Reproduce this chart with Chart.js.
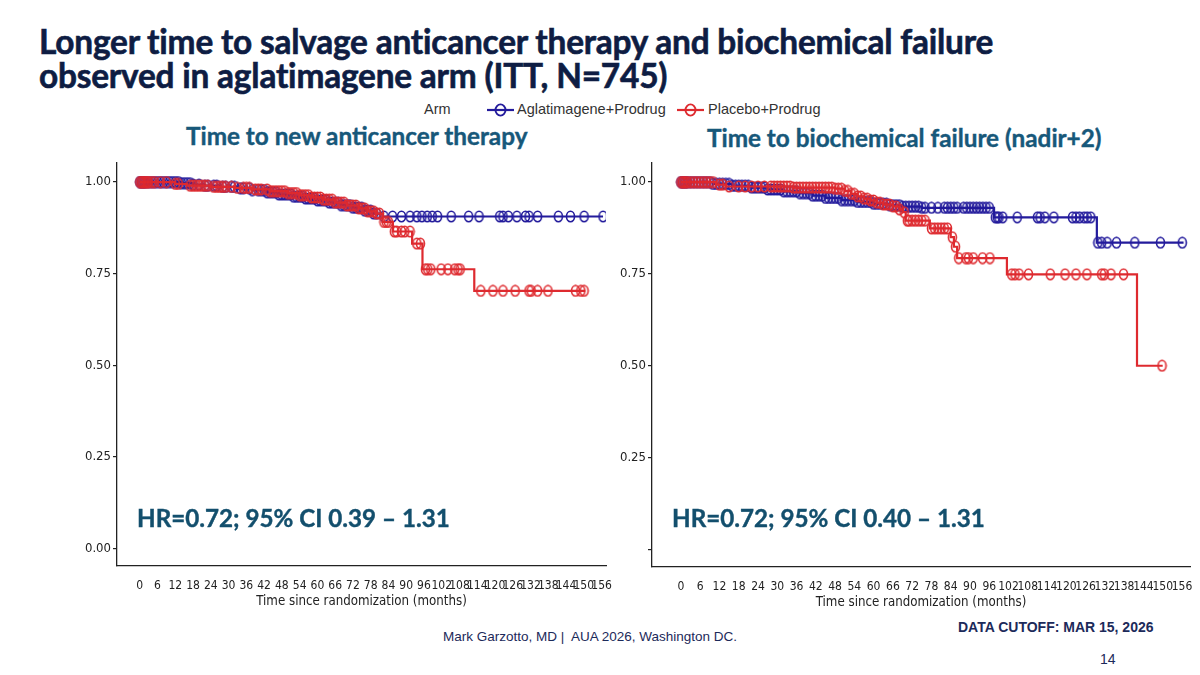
<!DOCTYPE html>
<html lang="en">
<head>
  <meta charset="UTF-8" />
  <title>Aglatimagene KM curves</title>
  <script src="https://cdn.jsdelivr.net/npm/chart.js"></script>
  <style>
    body { margin: 0; background: #fff; }
    #page { position: relative; width: 1200px; height: 675px; overflow: hidden; background: #fff; }
    .abs { position: absolute; white-space: nowrap; }
    #title { left: 39px; top: 24px; font: 700 33.4px/34px Lato, "Open Sans", sans-serif; letter-spacing: -0.2px; color: #0e1d43; -webkit-text-stroke: 0.6px #0e1d43; }
    .sub { font: 700 24.3px Lato, "Open Sans", sans-serif; color: #17587a; -webkit-text-stroke: 0.4px #17587a; }
    .hr { font: 700 24.2px Lato, "Open Sans", sans-serif; color: #134f6d; -webkit-text-stroke: 0.4px #134f6d; }
    .leg { font: 14.5px "Liberation Sans", Arial, sans-serif; color: #333; top: 101px; }
    .foot { font: 13.5px "Liberation Sans", Arial, sans-serif; color: #1c2a5a; }
    canvas { position: absolute; }
  </style>
</head>
<body>
<div id="page">
  <div id="title" class="abs">Longer time to salvage anticancer therapy and biochemical failure<br>observed in aglatimagene arm (ITT, N=745)</div>

  <div class="abs leg" style="left:424px;">Arm</div>
  <svg class="abs" style="left:487px; top:103px;" width="27" height="14"><line x1="0" y1="7" x2="27" y2="7" stroke="#231b9c" stroke-width="2.2"/><ellipse cx="13.5" cy="7" rx="5" ry="5.6" fill="none" stroke="#231b9c" stroke-width="1.9"/></svg>
  <div class="abs leg" style="left:517px;">Aglatimagene+Prodrug</div>
  <svg class="abs" style="left:677px; top:103px;" width="27" height="14"><line x1="0" y1="7" x2="27" y2="7" stroke="#de2a2f" stroke-width="2.2"/><ellipse cx="13.5" cy="7" rx="5" ry="5.6" fill="none" stroke="#de2a2f" stroke-width="1.9"/></svg>
  <div class="abs leg" style="left:708px;">Placebo+Prodrug</div>

  <div class="abs sub" style="left:186px; top:121px;">Time to new anticancer therapy</div>
  <div class="abs sub" style="left:707px; top:123px;">Time to biochemical failure (nadir+2)</div>

  <canvas id="leftChart" width="560" height="461" style="left:60px; top:150px;"></canvas>
  <canvas id="rightChart" width="592" height="462" style="left:608px; top:150px;"></canvas>

  <div class="abs hr" style="left:137px; top:503px;">HR=0.72; 95% CI 0.39 – 1.31</div>
  <div class="abs hr" style="left:672px; top:503px;">HR=0.72; 95% CI 0.40 – 1.31</div>

  <div class="abs foot" style="left:443px; top:629px;">Mark Garzotto, MD |&nbsp; AUA 2026, Washington DC.</div>
  <div class="abs foot" style="left:958px; top:619px; font-weight:700; font-size:14px;">DATA CUTOFF: MAR 15, 2026</div>
  <div class="abs foot" style="left:1100px; top:651px; font-size:14px;">14</div>
</div>
<script>
  // axis ticks
  const xTicks = [0, 6, 12, 18, 24, 30, 36, 42, 48, 54, 60, 66, 72, 78, 84, 90, 96, 102, 108, 114, 120, 126, 132, 138, 144, 150, 156];
  const yTicks = [0, 0.25, 0.5, 0.75, 1];

  // time to new anticancer therapy (left)
  const therapyAgTimes = [0, 14, 18, 22, 27, 33, 38, 43, 47, 52, 56, 60, 64, 68, 72, 76, 79, 82, 156.5];
  const therapyAgSurv  = [1, 0.997, 0.993, 0.990, 0.987, 0.983, 0.978, 0.972, 0.966, 0.960, 0.955, 0.950, 0.944, 0.937, 0.930, 0.922, 0.914, 0.906, 0.906];
  const therapyAgCensor = [0, 0.5, 1, 1.5, 2, 3, 4, 5, 6, 7, 8, 9, 10, 11, 12, 13, 14, 15, 16, 17, 18, 20, 22, 23, 25, 26, 28, 29, 31, 32, 34, 35, 37, 38, 40, 41, 42, 43, 44, 45, 46, 47, 48, 49, 50, 51, 52, 53, 54, 55, 56, 57, 58, 59, 60, 61, 62, 63, 64, 65, 66, 67, 68, 69, 70, 71, 72, 73, 74, 75, 76, 77, 78, 79, 80,
    82.5, 85.4, 88.4, 91.3, 93.6, 95.3, 97.1, 98.8, 100.6, 105.2, 111.1, 114.6, 121.6, 122.7, 124.5, 127.4, 130.3, 131.5, 134.4, 141.4, 145.5, 150.1, 156.5];

  const therapyPbTimes = [0, 12, 16, 24, 32, 38, 44, 50, 54, 58, 62, 66, 70, 74, 77, 80, 82, 85.5, 92, 95.5, 113, 150.5];
  const therapyPbSurv  = [1, 0.995, 0.990, 0.987, 0.984, 0.980, 0.975, 0.970, 0.964, 0.958, 0.952, 0.944, 0.936, 0.928, 0.920, 0.914, 0.891, 0.865, 0.832, 0.762, 0.703, 0.703];
  const therapyPbCensor = [0, 0.5, 1, 1.5, 2, 2.5, 3, 4, 5, 7, 9, 12, 13, 17, 18, 19, 20, 21, 22, 23, 25, 26, 27, 28, 29, 31, 33, 35, 36, 37, 39, 40, 41, 43, 44, 45, 46, 47, 48, 49, 50, 51, 52, 53, 54, 55, 56, 57, 58, 59, 60, 61, 62, 63, 64, 65, 66, 67, 68, 69, 70, 71, 72, 73, 74, 75, 76, 77, 78, 79, 80, 81,
    82.5, 83.3, 84, 86, 86.8, 88.4, 89.5, 91.3, 93.6, 94.8, 96.5, 97.3, 98.3, 101.8, 104.1, 106.4, 107.5, 108.2, 115.2, 119.3, 122.7, 126.8, 131.5, 132.2, 134.4, 137.9, 147.2, 149, 150.1];

  // time to biochemical failure (right)
  const bcfAgTimes = [0, 10, 16, 22, 27, 32, 37, 41, 45, 50, 55, 60, 65, 69, 75, 97.5, 129.5, 156.5];
  const bcfAgSurv  = [1, 0.995, 0.990, 0.985, 0.980, 0.975, 0.970, 0.963, 0.957, 0.951, 0.946, 0.941, 0.937, 0.933, 0.930, 0.904, 0.835, 0.835];
  const bcfAgCensor = [0, 0.5, 1, 1.5, 2, 3, 4, 5, 6, 7, 8, 9, 10, 11, 12, 13, 14, 15, 16, 17, 18, 19, 20, 21, 22, 23, 24, 25, 26, 27, 28, 29, 30, 31, 32, 33, 34, 35, 36, 37, 38, 39, 40, 41, 42, 43, 44, 45, 46, 47, 48, 49, 50, 51, 52, 53, 54, 55, 56, 57, 58, 59, 60, 61, 62, 63, 64, 65, 66, 67, 68, 69, 70, 71, 72, 73, 74, 75, 76, 78, 80, 82, 83, 84, 85, 86, 88, 89, 90, 91, 92, 93, 94, 95, 96,
    97.9, 98.5, 99, 100.2, 104.7, 111, 111.8, 113.3, 116.1, 121.9, 123, 124.1, 125.5, 126.5, 127.6, 129.8, 131, 132.7, 135.6, 141.3, 149.3, 156.1];

  const bcfPbTimes = [0, 11, 14, 35, 48, 51, 53, 55, 57, 59, 61, 63, 66, 68, 69, 70, 77.5, 84, 85, 86, 101.5, 142, 150];
  const bcfPbSurv  = [1, 0.993, 0.988, 0.985, 0.982, 0.976, 0.968, 0.961, 0.955, 0.950, 0.944, 0.939, 0.934, 0.926, 0.918, 0.895, 0.874, 0.850, 0.824, 0.793, 0.749, 0.500, 0.500];
  const bcfPbCensor = [0, 0.5, 1, 1.5, 2, 3, 4, 5, 6, 7, 8, 9, 10, 12, 13, 15, 18, 20, 22, 24, 26, 28, 29, 30, 31, 32, 33, 34, 35, 36, 37, 38, 39, 40, 41, 42, 43, 44, 45, 46, 47, 48, 49, 50, 51, 52, 53, 54, 55, 56, 57, 58, 59, 60, 61, 62, 63, 64, 65, 66, 67, 68, 69.5,
    70.5, 71, 72, 73, 74, 75, 76, 78, 79, 80, 81, 82, 83, 84.5, 85.5, 86.5, 88.7, 89.5, 91, 93.9, 96.2, 103, 104, 105.3, 108.2, 115, 119.6, 123, 126.4, 131, 131.8, 133.9, 137.8, 149.8];

  const BLUE = "#231b9c";
  const RED = "#de2a2f";
  const condensed = "'Liberation Sans Narrow', 'Arial Narrow', 'DejaVu Sans Condensed', sans-serif";
  const xTickFont = { family: condensed, size: 12 };
  const yTickFont = { family: condensed, size: 13 };
  const titleFont = { family: condensed, size: 13.2 };

  function censorMark(color) {
    const c = document.createElement("canvas");
    c.width = 11; c.height = 13;
    const g = c.getContext("2d");
    g.strokeStyle = color;
    g.lineWidth = 1.6;
    g.beginPath();
    g.ellipse(5.5, 6.5, 4, 5.2, 0, 0, Math.PI * 2);
    g.stroke();
    return c;
  }

  function survAt(times, surv, t) {
    let s = surv[0];
    for (let i = 0; i < times.length; i++) if (times[i] <= t) s = surv[i];
    return s;
  }

  function kmSets(times, surv, censor, color, order) {
    return [
      {
        type: "scatter",
        data: censor.map(t => ({ x: t, y: survAt(times, surv, t) })),
        pointStyle: censorMark(color), pointRadius: 5, order
      },
      {
        type: "line",
        data: times.map((t, i) => ({ x: t, y: surv[i] })),
        borderColor: color, borderWidth: 2.2, stepped: "before",
        pointRadius: 0, fill: false, order
      }
    ];
  }

  function makeChart(id, ag, pb, xMin, xMax, yWidth, padRight, showZero) {
    new Chart(document.getElementById(id), {
      data: { datasets: [...kmSets(...pb, RED, 0), ...kmSets(...ag, BLUE, 1)] },
      options: {
        responsive: false,
        animation: false,
        layout: { padding: { top: 13, right: padRight, left: 0, bottom: 0 } },
        plugins: { legend: { display: false }, tooltip: { enabled: false } },
        scales: {
          x: {
            type: "linear", min: xMin, max: xMax,
            afterBuildTicks: a => { a.ticks = xTicks.map(v => ({ value: v })); },
            afterFit: a => { a.height = 45; },
            grid: { display: false },
            border: { display: true, color: "#222", width: 1.3 },
            ticks: { autoSkip: false, maxRotation: 0, color: "#222", font: xTickFont, padding: 5 },
            title: { display: true, text: "Time since randomization (months)", color: "#222", font: titleFont, padding: { top: 0, bottom: 2 } }
          },
          y: {
            type: "linear", min: -0.048, max: 1.052,
            afterBuildTicks: a => { a.ticks = yTicks.map(v => ({ value: v })); },
            afterFit: a => { a.width = yWidth; },
            grid: { display: true, drawOnChartArea: false, drawTicks: true, tickLength: 4, color: "#222", lineWidth: 1.2 },
            border: { display: true, color: "#222", width: 1.3 },
            ticks: {
              color: "#222", font: yTickFont, padding: 2,
              callback: v => (v === 0 && !showZero) ? "" : v.toFixed(2)
            }
          }
        }
      }
    });
  }

  makeChart("leftChart",
    [therapyAgTimes, therapyAgSurv, therapyAgCensor],
    [therapyPbTimes, therapyPbSurv, therapyPbCensor],
    -7.7, 157.5, 57, 14, true);

  makeChart("rightChart",
    [bcfAgTimes, bcfAgSurv, bcfAgCensor],
    [bcfPbTimes, bcfPbSurv, bcfPbCensor],
    -9, 158.5, 44, 10, false);
</script>
</body>
</html>
